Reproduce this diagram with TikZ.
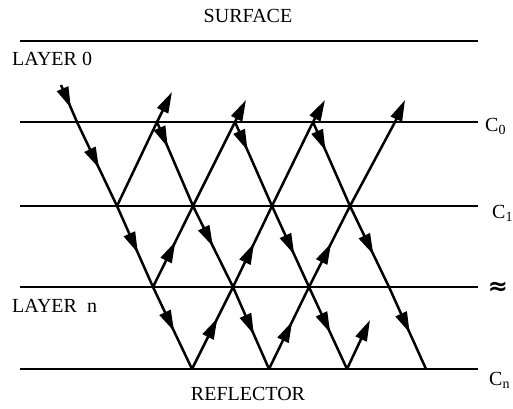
\documentclass[tikz,border=0pt]{standalone}
\usepackage{fontspec}
\setmainfont{Liberation Serif}
\newfontfamily\symfont{DejaVu Sans}
\usetikzlibrary{arrows.meta,decorations.markings}
\tikzset{
  layerline/.style={line width=2.1pt},
  ray/.style={line width=2.5pt},
  lbl/.style={inner sep=0pt, font=\fontsize{20}{22}\selectfont},
  biglbl/.style={inner sep=0pt, font=\symfont\bfseries\fontsize{24}{24}\selectfont},
  tipend/.style={ray, -{Triangle[length=21pt,width=12pt]}},
  midarrow/.style={postaction={decorate}, decoration={markings,
      mark=at position #1 with {\arrow{Triangle[length=21pt,width=12pt]}}}}
}
\begin{document}
\begin{tikzpicture}[x=1pt,y=-1pt]
\useasboundingbox (0,0) rectangle (513,408);
% layer lines
\coordinate (sa) at (20,41);  \coordinate (sb) at (478,41);
\coordinate (c0a) at (20,122); \coordinate (c0b) at (478,122);
\coordinate (c1a) at (20,206); \coordinate (c1b) at (478,206);
\coordinate (cxa) at (20,287); \coordinate (cxb) at (478,287);
\coordinate (cna) at (20,369); \coordinate (cnb) at (478,369);
\draw[layerline] (sa) -- (sb);
\draw[layerline] (c0a) -- (c0b);
\draw[layerline] (c1a) -- (c1b);
\draw[layerline] (cxa) -- (cxb);
\draw[layerline] (cna) -- (cnb);
% labels
\node[lbl, anchor=base] (surf) at (248,22.5) {SURFACE};
\node[lbl, anchor=base west] (lay0) at (12,65) {LAYER 0};
\node[lbl, anchor=base west] (layn) at (12,312) {LAYER\hspace{0.5em}n};
\node[lbl, anchor=base] (refl) at (248,400) {REFLECTOR};
\node[lbl, anchor=base west] (lc0) at (485,131) {C\textsubscript{0}};
\node[lbl, anchor=base west] (lc1) at (492,218) {C\textsubscript{1}};
\node[lbl, anchor=base west] (lcn) at (489,385) {C\textsubscript{n}};
\node[biglbl] (lcx) at (498,288) {≈};
% ray points
\coordinate (d1s) at (61,85);
\coordinate (d10) at (77,122);  \coordinate (d11) at (117,206); \coordinate (d12) at (153,287); \coordinate (d13) at (192,369);
\coordinate (d20) at (157,122); \coordinate (d21) at (193,206); \coordinate (d22) at (233,287); \coordinate (d23) at (269,369);
\coordinate (d30) at (235,122); \coordinate (d31) at (272,206); \coordinate (d32) at (309,287); \coordinate (d33) at (347,369);
\coordinate (d40) at (313,122); \coordinate (d41) at (350,206); \coordinate (d42) at (389,287); \coordinate (d43) at (426,369);
\coordinate (ud0) at (395,122);
\coordinate (ua) at (172,92);
\coordinate (ub) at (246,100);
\coordinate (uc) at (325,100);
\coordinate (ud) at (405,100);
\coordinate (ue) at (370,320);
% down-going rays
\draw[ray, midarrow=0.62] (d1s) -- (d10);
\draw[ray, midarrow=0.55] (d10) -- (d11);
\draw[ray, midarrow=0.58] (d11) -- (d12);
\draw[ray, midarrow=0.54] (d12) -- (d13);
\draw[ray, midarrow=0.3] (d20) -- (d21);
\draw[ray, midarrow=0.5] (d21) -- (d22);
\draw[ray, midarrow=0.58] (d22) -- (d23);
\draw[ray, midarrow=0.34] (d30) -- (d31);
\draw[ray, midarrow=0.6] (d31) -- (d32);
\draw[ray, midarrow=0.56] (d32) -- (d33);
\draw[ray, midarrow=0.34] (d40) -- (d41);
\draw[ray, midarrow=0.6] (d41) -- (d42);
\draw[ray, midarrow=0.56] (d42) -- (d43);
% up-going rays
\draw[ray] (d11) -- (d20);
\draw[tipend] (d20) -- (ua);
\draw[ray, midarrow=0.56] (d12) -- (d21);
\draw[ray] (d21) -- (d30);
\draw[tipend] (d30) -- (ub);
\draw[ray, midarrow=0.62] (d13) -- (d22);
\draw[ray, midarrow=0.54] (d22) -- (d31);
\draw[ray] (d31) -- (d40);
\draw[tipend] (d40) -- (uc);
\draw[ray, midarrow=0.58] (d23) -- (d32);
\draw[ray, midarrow=0.54] (d32) -- (d41);
\draw[ray] (d41) -- (ud0);
\draw[tipend] (ud0) -- (ud);
\draw[tipend] (d33) -- (ue);
\end{tikzpicture}
\end{document}
